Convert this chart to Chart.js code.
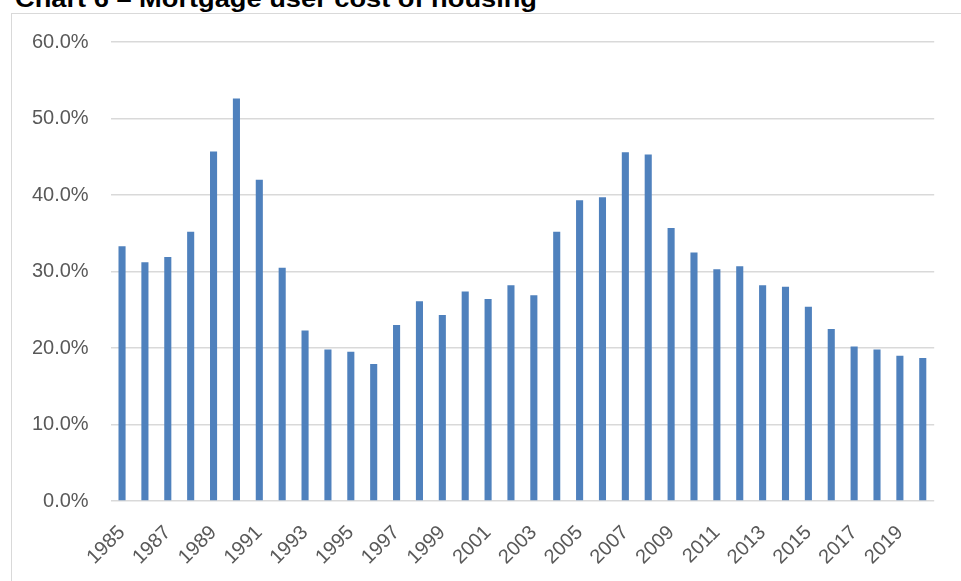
<!DOCTYPE html>
<html>
<head>
<meta charset="utf-8">
<script src="https://cdn.jsdelivr.net/npm/chart.js@4/dist/chart.umd.min.js"></script>
<style>
  html, body { margin: 0; padding: 0; background: #fff; overflow: hidden; }
  #wrap { position: relative; width: 961px; height: 581px; }
  #frame { position: absolute; left: 11px; top: 13px; right: -2px; bottom: -2px;
           border-left: 1px solid #d9d9d9; border-top: 1px solid #d9d9d9; }
  #title { position: absolute; left: 0; top: 0; }
  canvas { position: absolute; left: 0; top: 0; }
</style>
</head>
<body>
<div id="wrap">
  <div id="frame"></div>
  <svg id="title" width="961" height="20">
    <text x="15" y="7" textLength="522" lengthAdjust="spacingAndGlyphs"
          font-family="Liberation Sans, Arial, sans-serif" font-weight="bold" font-size="23" fill="#000">Chart 6 – Mortgage user cost of housing</text>
  </svg>
  <canvas id="chart" width="961" height="581"></canvas>
</div>
<script>
  'use strict';

  // years on the category axis
  var years = ['1985', '1986', '1987', '1988', '1989', '1990', '1991', '1992', '1993', '1994',
               '1995', '1996', '1997', '1998', '1999', '2000', '2001', '2002', '2003', '2004',
               '2005', '2006', '2007', '2008', '2009', '2010', '2011', '2012', '2013', '2014',
               '2015', '2016', '2017', '2018', '2019', '2020'];

  // mortgage user cost, %
  var userCost = [33.3, 31.2, 31.9, 35.2, 45.7, 52.6, 42.0, 30.5, 22.3, 19.8,
                  19.5, 17.9, 23.0, 26.1, 24.3, 27.4, 26.4, 28.2, 26.9, 35.2,
                  39.3, 39.7, 45.6, 45.3, 35.7, 32.5, 30.3, 30.7, 28.2, 28.0,
                  25.4, 22.5, 20.2, 19.8, 19.0, 18.7];

  var yTicks = [0, 10, 20, 30, 40, 50, 60];

  var axisFont = { family: 'Liberation Sans, Arial, sans-serif', size: 20 };

  var ctx = document.getElementById('chart').getContext('2d');
  window.userCostChart = new Chart(ctx, {
    type: 'bar',
    data: {
      labels: years,
      datasets: [{
        data: userCost,
        backgroundColor: '#4f81bd',
        borderWidth: 0,
        categoryPercentage: 1,
        barPercentage: 0.31
      }]
    },
    options: {
      responsive: false,
      animation: false,
      layout: { padding: { left: 0, right: 26.8, top: 42, bottom: 0 } },
      plugins: { legend: { display: false }, tooltip: { enabled: false }, title: { display: false } },
      scales: {
        x: {
          grid: { display: false, drawTicks: false },
          border: { display: false },
          ticks: {
            autoSkip: false,
            minRotation: 45,
            maxRotation: 45,
            padding: 27,
            color: '#595959',
            font: { family: axisFont.family, size: axisFont.size, lineHeight: 0.2 },
            callback: function (value, index) {
              return index % 2 === 0 ? this.getLabelForValue(value) : '';
            }
          },
          afterFit: function (scale) { scale.height = 80; }
        },
        y: {
          min: yTicks[0],
          max: yTicks[yTicks.length - 1],
          grid: { color: '#d9d9d9', lineWidth: 1.5, drawTicks: false },
          border: { display: false },
          afterBuildTicks: function (scale) {
            scale.ticks = yTicks.map(function (v) { return { value: v }; });
          },
          ticks: {
            padding: 22,
            color: '#595959',
            font: axisFont,
            callback: function (value) { return value.toFixed(1) + '%'; }
          },
          afterFit: function (scale) { scale.width = 110.6; }
        }
      }
    }
  });
</script>
</body>
</html>
